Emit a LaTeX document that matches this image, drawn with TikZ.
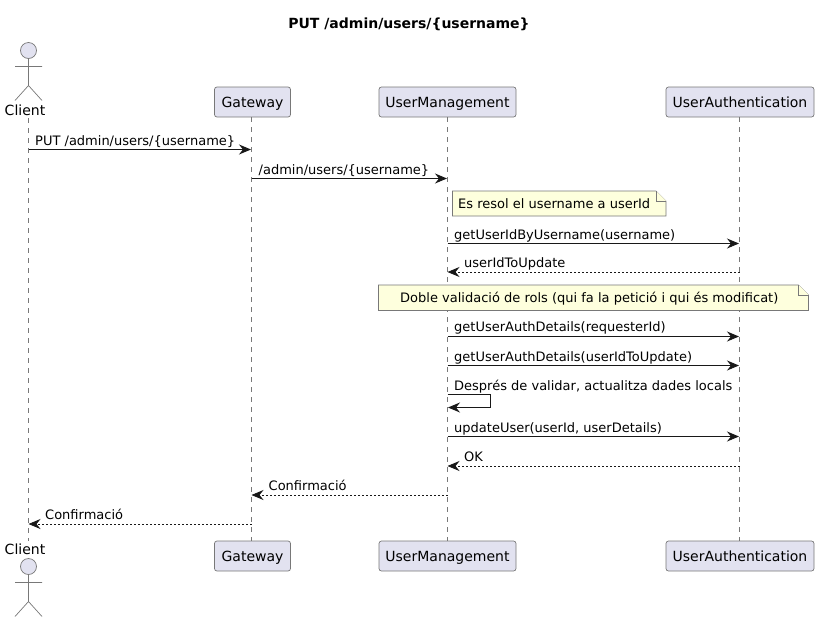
\documentclass[tikz,border=0pt]{standalone}
\usepackage{fontspec}
\setmainfont{DejaVu Sans}
\usetikzlibrary{arrows.meta}
\definecolor{boxfill}{HTML}{E2E2F0}
\definecolor{notefill}{HTML}{FEFFDD}
\definecolor{lineclr}{HTML}{181818}
\definecolor{thinclr}{HTML}{787878}
\tikzset{
  part/.style={draw=thinclr,line width=0.7pt,fill=boxfill,rounded corners=2.5pt,minimum height=30pt,inner sep=0pt,text height=13pt,text depth=3pt,font=\fontsize{14}{16}\selectfont,text=black},
  lifeline/.style={draw=thinclr,line width=0.7pt,dash pattern=on 5pt off 5pt},
  actorline/.style={draw=thinclr,line width=0.7pt},
  tip/.style={-{Stealth[length=12pt,width=10pt,inset=4pt]}},
  msg/.style={draw=lineclr,line width=1pt,tip,shorten >=0.5pt},
  ret/.style={draw=lineclr,line width=0.8pt,dash pattern=on 2pt off 2pt,tip},
  lab/.style={anchor=base west,inner sep=0pt,font=\fontsize{13}{15}\selectfont,text=black},
  notebody/.style={draw=thinclr,line width=0.7pt,fill=notefill},
  actorname/.style={anchor=base,inner sep=0pt,font=\fontsize{14}{16}\selectfont,text=black},
}
\begin{document}
\begin{tikzpicture}[x=1pt,y=-1pt]
\useasboundingbox (0,0) rectangle (819,622);
\node[anchor=base,inner sep=0pt,font=\fontsize{14}{16}\selectfont\bfseries] (title) at (409,28) {PUT /admin/users/\{username\}};
% participant boxes
\node[part,minimum width=76pt] (gw) at (252.5,102) {Gateway};
\node[part,minimum width=76pt] (gwb) at (252.5,556) {Gateway};
\node[part,minimum width=137pt] (um) at (447.5,102) {UserManagement};
\node[part,minimum width=137pt] (umb) at (447.5,556) {UserManagement};
\node[part,minimum width=148pt] (ua) at (740,102) {UserAuthentication};
\node[part,minimum width=148pt] (uab) at (740,556) {UserAuthentication};
% lifelines
\coordinate (cl) at (28.5,118);
\coordinate (clb) at (28.5,541);
\coordinate (gl) at (251.5,117);
\coordinate (glb) at (251.5,541);
\coordinate (ul) at (739.5,117);
\coordinate (ulb) at (739.5,541);
\draw[lifeline] (cl) -- (clb);
\draw[lifeline] (gl) -- (glb);
\draw[lifeline] (um.south) -- (umb.north);
\draw[lifeline] (ul) -- (ulb);
% actors
\draw[actorline,fill=boxfill] (28.5,50.5) circle (8);
\draw[actorline] (28.5,58.5) -- (28.5,85.5) (15,66.5) -- (42,66.5) (15,100.5) -- (28.5,85.5) -- (42,100.5);
\node[actorname] (cltop) at (25,115) {Client};
\draw[actorline,fill=boxfill] (28.5,566.5) circle (8);
\draw[actorline] (28.5,574.5) -- (28.5,601.5) (15,582.5) -- (42,582.5) (15,616.5) -- (28.5,601.5) -- (42,616.5);
\node[actorname] (clbot) at (25,554) {Client};
% messages
\draw[msg] (cl |- 0,149.5) -- (gl |- 0,149.5);
\node[lab] (m1) at (35,145) {PUT /admin/users/\{username\}};
\draw[msg] (gl |- 0,178.5) -- (um |- 0,178.5);
\node[lab] (m2) at (258.5,174) {/admin/users/\{username\}};
\draw[notebody] (452.5,191) -- (656,191) -- (666,201) -- (666,216) -- (452.5,216) -- cycle;
\draw[notebody] (656,191) -- (656,201) -- (666,201);
\node[lab] (n1) at (458,208) {Es resol el username a userId};
\draw[msg] (um |- 0,243.5) -- (ul |- 0,243.5);
\node[lab] (m3) at (454,239) {getUserIdByUsername(username)};
\draw[ret] (ul |- 0,272) -- (um |- 0,272);
\node[lab] (m4) at (464,267) {userIdToUpdate};
\draw[notebody] (378.5,285) -- (798.5,285) -- (808.5,295) -- (808.5,310.5) -- (378.5,310.5) -- cycle;
\draw[notebody] (798.5,285) -- (798.5,295) -- (808.5,295);
\node[lab] (n2) at (400,302) {Doble validació de rols (qui fa la petició i qui és modificat)};
\draw[msg] (um |- 0,336.5) -- (ul |- 0,336.5);
\node[lab] (m5) at (454,331) {getUserAuthDetails(requesterId)};
\draw[msg] (um |- 0,365.5) -- (ul |- 0,365.5);
\node[lab] (m6) at (454,361) {getUserAuthDetails(userIdToUpdate)};
\draw[msg] (um |- 0,394.5) -- ++(42.5,0) -- ++(0,13) -- (um |- 0,407.5);
\node[lab] (m7) at (454,390) {Després de validar, actualitza dades locals};
\draw[msg] (um |- 0,436.5) -- (ul |- 0,436.5);
\node[lab] (m8) at (454,432) {updateUser(userId, userDetails)};
\draw[ret] (ul |- 0,466) -- (um |- 0,466);
\node[lab] (m9) at (464,461) {OK};
\draw[ret] (um |- 0,495) -- (gl |- 0,495);
\node[lab] (m10) at (268.5,490) {Confirmació};
\draw[ret] (gl |- 0,524) -- (cl |- 0,524);
\node[lab] (m11) at (45,519) {Confirmació};
\end{tikzpicture}
\end{document}
